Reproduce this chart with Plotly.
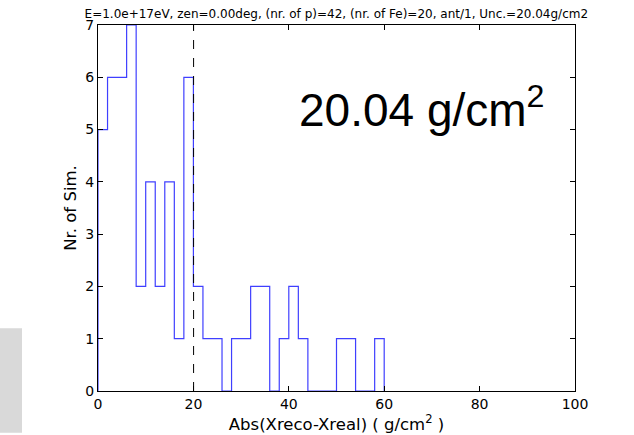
import plotly.graph_objects as go

# Histogram of |Xreco - Xreal| in 2 g/cm^2 bins
bin_edges = list(range(0, 62, 2))
counts = [5, 6, 6, 7, 2, 4, 2, 4, 1, 6,
          2, 1, 1, 0, 1, 1, 2, 2, 0, 1,
          2, 1, 0, 0, 0, 1, 1, 0, 0, 1]
uncertainty = 20.04
x_ticks = [0, 20, 40, 60, 80, 100]
y_ticks = [0, 1, 2, 3, 4, 5, 6, 7]

title_text = ("E=1.0e+17eV, zen=0.00deg, (nr. of p)=42, (nr. of Fe)=20, "
              "ant/1, Unc.=%.2fg/cm2" % uncertainty)

# step outline: start on the baseline, end back on the baseline
step_x = [bin_edges[0]] + bin_edges
step_y = [0] + counts + [0]

fig = go.Figure()
fig.add_trace(go.Scatter(
    x=step_x, y=step_y, mode="lines",
    line=dict(shape="hv", color="#0000ff", width=1.2),
    opacity=0.75, showlegend=False, cliponaxis=True,
))

# dashed marker at the uncertainty value
fig.add_shape(type="line", xref="x", yref="paper",
              x0=uncertainty, x1=uncertainty, y0=0, y1=1,
              line=dict(color="black", width=1, dash="dash"))

fig.add_annotation(
    x=41.7, y=5.43, xref="x", yref="y", xanchor="left", yanchor="middle",
    text="%.2f g/cm<sup>2</sup>" % uncertainty, showarrow=False,
    font=dict(family="Liberation Sans, Arial, sans-serif", size=46, color="black"),
)

# grey panel at the lower-left edge
fig.add_shape(type="rect", xref="paper", yref="paper",
              x0=-0.2055, x1=-0.1593, y0=-0.1141, y1=0.1712,
              fillcolor="#d9d9d9", line=dict(width=0), layer="below")

axis_common = dict(
    showgrid=False, zeroline=False, showline=True, mirror="ticks",
    linecolor="black", linewidth=1, ticks="inside", ticklen=5,
    tickcolor="black", tickwidth=1,
    tickfont=dict(family="DejaVu Sans", size=14, color="black"),
)

fig.update_layout(
    width=634, height=435,
    margin=dict(l=98, r=59, t=25, b=42),
    paper_bgcolor="white", plot_bgcolor="white",
    title=dict(text=title_text, x=0.5305, xanchor="center", y=0.968, yanchor="middle",
               font=dict(family="DejaVu Sans", size=12, color="black")),
    xaxis=dict(range=[0, 100], tickvals=x_ticks,
               title=dict(text="Abs(Xreco-Xreal) ( g/cm<sup>2</sup> )", standoff=0,
                          font=dict(family="DejaVu Sans", size=16.5, color="black")),
               **axis_common),
    yaxis=dict(range=[0, 7], tickvals=y_ticks,
               title=dict(text="Nr. of Sim.", standoff=4,
                          font=dict(family="DejaVu Sans", size=16.5, color="black")),
               **axis_common),
)

fig.write_html("out.html")
